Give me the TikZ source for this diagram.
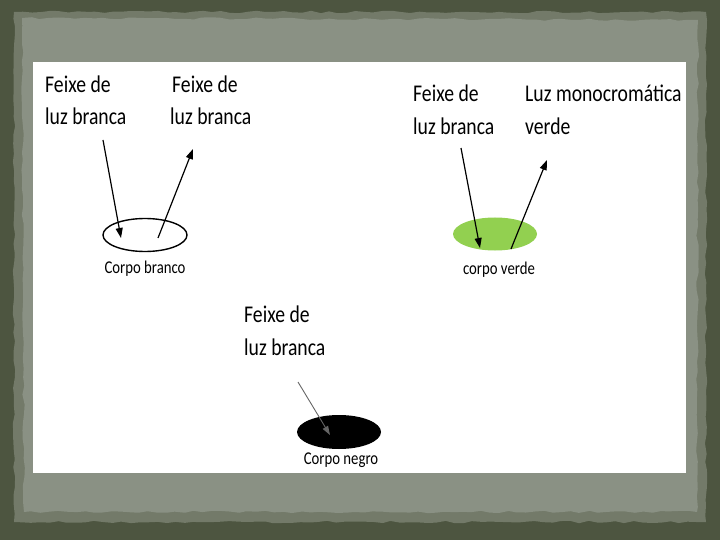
\documentclass[tikz,border=0pt]{standalone}
\usepackage{fontspec}
\setmainfont{Carlito}[FakeStretch=0.82]
\usetikzlibrary{arrows.meta,shapes.geometric,decorations.pathmorphing}
\definecolor{frameDark}{HTML}{4D5540}
\definecolor{frameMid}{HTML}{737A69}
\definecolor{frameLight}{HTML}{8A9184}
\definecolor{bodyGreen}{HTML}{92D050}
\tikzset{
  lbl/.style={anchor=base west, inner sep=0pt, font=\fontsize{24}{28}\selectfont, text=black},
  caption/.style={inner sep=0pt, font=\fontsize{18}{20}\selectfont, text=black},
  ray/.style={-{Triangle[length=10pt,width=7pt]}, line width=1.2pt, black},
  body/.style={ellipse, minimum width=84pt, minimum height=33pt, inner sep=0pt},
  rough/.style={decorate, decoration={random steps, segment length=9pt, amplitude=1.2pt}}
}
\begin{document}
\begin{tikzpicture}[x=1pt,y=-1pt]
\pgfmathsetseed{7}
\useasboundingbox (0,0) rectangle (720,540);
% frame
\fill[frameDark] (0,0) rectangle (720,540);
\fill[frameMid, rough] (14,12) -- (706,12) -- (706,522) -- (14,522) -- cycle;
\fill[frameLight, rough] (22,18) -- (698,20) -- (697,512) -- (24,512) -- cycle;
\fill[white] (33,62) rectangle (686,473);

% top-left: white body
\node[lbl] (t1a) at (45,93) {Feixe de};
\node[lbl] (t1b) at (45,125) {luz branca};
\node[lbl] (t2a) at (172,93) {Feixe de};
\node[lbl] (t2b) at (170,125) {luz branca};
\node[body, draw=black, line width=1.4pt, fill=white] (wb) at (145,235) {};
\node[caption] (wbc) at (145,269) {Corpo branco};
\coordinate (a1s) at (103,140);
\coordinate (a1e) at (121,238);
\coordinate (a2s) at (158,238);
\coordinate (a2e) at (193,149);
\draw[ray] (a1s) -- (a1e);
\draw[ray] (a2s) -- (a2e);

% top-right: green body
\node[lbl] (t3a) at (413,102) {Feixe de};
\node[lbl] (t3b) at (413,135) {luz branca};
\node[lbl] (t4a) at (525,102) {Luz monocromática};
\node[lbl] (t4b) at (525,135) {verde};
\node[body, fill=bodyGreen] (gb) at (495,234) {};
\node[caption] (gbc) at (499,270) {corpo verde};
\coordinate (a3s) at (461,148);
\coordinate (a3e) at (480,248);
\coordinate (a4s) at (511,249);
\coordinate (a4e) at (547,160);
\draw[ray] (a3s) -- (a3e);
\draw[ray] (a4s) -- (a4e);

% bottom: black body
\node[lbl] (t5a) at (244,322) {Feixe de};
\node[lbl] (t5b) at (244,355) {luz branca};
\node[body, fill=black, minimum height=34pt] (bb) at (339,432) {};
\node[caption] (bbc) at (341,460) {Corpo negro};
\coordinate (a5s) at (298,382);
\coordinate (a5e) at (330,435);
\draw[-{Triangle[length=9pt,width=6pt]}, line width=0.9pt, black!60] (a5s) -- (a5e);
\end{tikzpicture}
\end{document}
